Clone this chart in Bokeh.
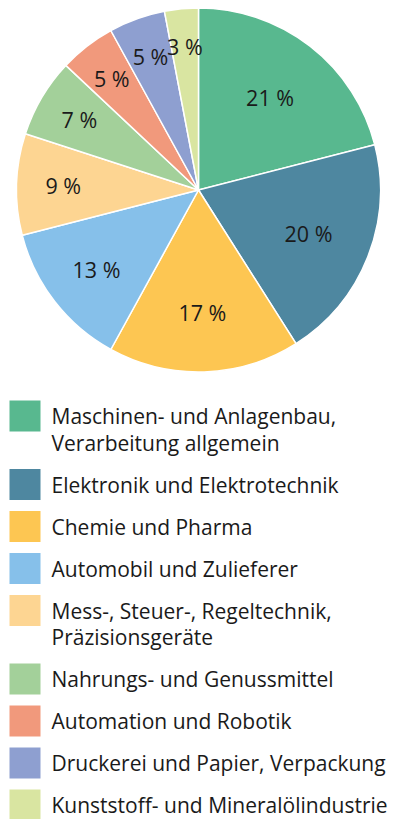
from bokeh.plotting import figure
from bokeh.models import Range1d, ColumnDataSource
from bokeh.core.properties import value
from bokeh.embed import file_html
from bokeh.resources import INLINE
import math

categories = [
    "Maschinen- und Anlagenbau,\nVerarbeitung allgemein",
    "Elektronik und Elektrotechnik",
    "Chemie und Pharma",
    "Automobil und Zulieferer",
    "Mess-, Steuer-, Regeltechnik,\nPräzisionsgeräte",
    "Nahrungs- und Genussmittel",
    "Automation und Robotik",
    "Druckerei und Papier, Verpackung",
    "Kunststoff- und Mineralölindustrie",
]
shares = [21, 20, 17, 13, 9, 7, 5, 5, 3]
colors = ["#58B88F", "#4E87A0", "#FDC652", "#86C0EA", "#FDD592",
          "#A3D09A", "#F1997C", "#8E9FD0", "#D9E5A1"]

W, H = 401, 819
FONT = "Open Sans"
TXT = "#1a1a1a"

p = figure(width=W, height=H, x_range=Range1d(0, W), y_range=Range1d(0, H),
           output_backend="svg", toolbar_location=None, min_border=0,
           outline_line_color=None)
p.axis.visible = False
p.grid.visible = False
p.background_fill_color = "white"
p.border_fill_color = "white"

def Y(top):  # pixel offset from top -> data y
    return H - top

cx, cy, R = 198, Y(189.5), 182
total = sum(shares)
starts, ends, lx, ly, labels = [], [], [], [], []
cum = 0.0
for s in shares:
    f0 = cum / total
    f1 = (cum + s) / total
    a0 = math.pi / 2 - 2 * math.pi * f0
    a1 = math.pi / 2 - 2 * math.pi * f1
    starts.append(a1)
    ends.append(a0)
    mid = (a0 + a1) / 2
    rf = 0.82 - 0.85 * (s / total)
    lx.append(cx + R * rf * math.cos(mid))
    ly.append(cy + R * rf * math.sin(mid))
    labels.append(f"{s} %")
    cum += s

src = ColumnDataSource(dict(start=starts, end=ends, color=colors))
p.wedge(x=cx, y=cy, radius=R, start_angle="start", end_angle="end",
        fill_color="color", line_color="white", line_width=1.5, source=src)
p.text(x=lx, y=ly, text=labels, text_font=value(FONT), text_font_size="21.5px",
       text_color=TXT, text_align="center", text_baseline="middle")

# legend
sq = 31
top = 400
line_h = 26.5
pitch = 42
sx, sy, tx, ty, tt = [], [], [], [], []
for cat in categories:
    lines = cat.split("\n")
    sx.append(9 + sq / 2)
    sy.append(Y(top + sq / 2))
    for i, ln in enumerate(lines):
        tx.append(51)
        ty.append(Y(top + sq / 2 + i * line_h))
        tt.append(ln)
    top += pitch + (len(lines) - 1) * line_h
p.rect(x=sx, y=sy, width=sq, height=sq, fill_color=colors, line_color=None)
p.text(x=tx, y=ty, text=tt, text_font=value(FONT), text_font_size="21px",
       text_color=TXT, text_align="left", text_baseline="middle")

open("out.html", "w").write(file_html(p, INLINE))
